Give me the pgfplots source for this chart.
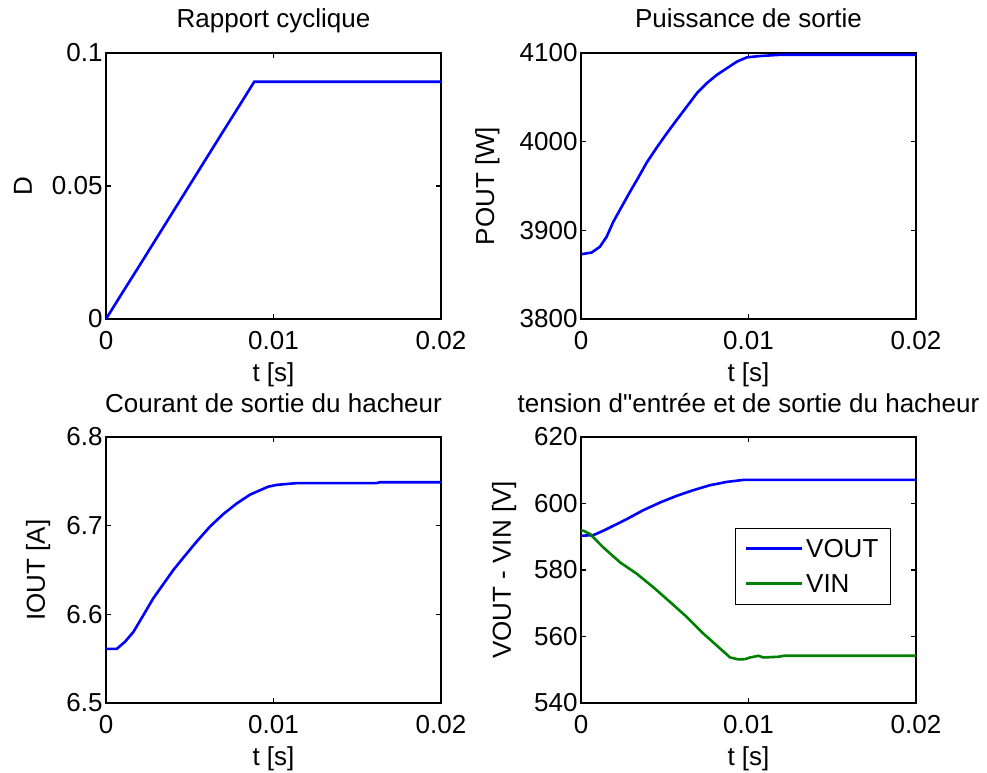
\documentclass[border=0pt]{standalone}
\usepackage{fontspec}
\setmainfont{Liberation Sans}
\newfontfamily\nomap{Liberation Sans}
\usepackage{pgfplots}
\pgfplotsset{compat=1.18}
\definecolor{mblue}{RGB}{0,0,255}
\definecolor{mgreen}{RGB}{0,128,0}
\newcommand{\bigf}{\fontsize{26}{31}\selectfont}
\pgfplotsset{mstyle/.style={
  scale only axis, width=335pt, height=266pt,
  xmin=0, xmax=0.02, xtick={0,0.01,0.02}, xticklabels={0,0.01,0.02},
  scaled ticks=false,
  tick align=inside, major tick length=5pt,
  axis line style={line width=1.6pt},
  every tick/.style={black, line width=1.2pt},
  tick label style={font=\bigf},
  label style={font=\bigf},
  title style={font=\bigf, at={(axis description cs:0.5,1)}, anchor=base, yshift=19pt},
  xlabel={t [s]},
  xlabel style={at={(axis description cs:0.5,0)}, anchor=base, yshift=-62pt},
  xticklabel style={anchor=base, yshift=-30pt},
  yticklabel style={anchor=east},
  every axis plot/.append style={line width=2.6pt, mark=none},
}}
\begin{document}
\begin{tikzpicture}
\useasboundingbox (0,0) rectangle (987pt,772pt);
% Top-left
\begin{axis}[mstyle, at={(106pt,453pt)}, anchor=south west,
  title={Rapport cyclique}, ylabel={D},
  ylabel style={at={(axis description cs:-0.2209,0.5)}, anchor=base},
  ymin=0, ymax=0.1, ytick={0,0.05,0.1}, yticklabels={0,0.05,0.1}]
\addplot[mblue] coordinates {
(0,0) (0.0010,0.0101) (0.0020,0.0201) (0.0030,0.0302) (0.0040,0.0403)
(0.0050,0.0504) (0.0060,0.0605) (0.0070,0.0706) (0.0080,0.0806)
(0.00885,0.0892) (0.0120,0.0892) (0.0200,0.0892)};
\end{axis}
% Top-right
\begin{axis}[mstyle, at={(581pt,453pt)}, anchor=south west,
  title={Puissance de sortie}, ylabel={POUT [W]},
  ylabel style={at={(axis description cs:-0.2597,0.5)}, anchor=base},
  ymin=3800, ymax=4100, ytick={3800,3900,4000,4100}, yticklabels={3800,3900,4000,4100}]
\addplot[mblue] coordinates {
(0,3873) (0.00064,3875) (0.00113,3881.5) (0.00153,3892.8) (0.00193,3909.7)
(0.00243,3926.7) (0.00293,3943.6) (0.00342,3959.5) (0.00392,3976.3)
(0.00452,3993.3) (0.00512,4009.4) (0.00571,4024.4) (0.00631,4039.4)
(0.00691,4054.5) (0.0075,4065.8) (0.0081,4075.2) (0.0087,4082.7)
(0.0093,4090.2) (0.0099,4095.1) (0.0107,4096.6) (0.0119,4098) (0.0200,4098)};
\end{axis}
% Bottom-left
\begin{axis}[mstyle, at={(106pt,69pt)}, anchor=south west,
  title={Courant de sortie du hacheur}, ylabel={IOUT [A]},
  ylabel style={at={(axis description cs:-0.1821,0.5)}, anchor=base},
  ymin=6.5, ymax=6.8, ytick={6.5,6.6,6.7,6.8}, yticklabels={6.5,6.6,6.7,6.8}]
\addplot[mblue] coordinates {
(0,6.561) (0.00064,6.561) (0.00113,6.569) (0.00163,6.580) (0.00223,6.599)
(0.00282,6.618) (0.00342,6.634) (0.00402,6.650) (0.00462,6.664)
(0.00541,6.682) (0.00621,6.699) (0.0070,6.713) (0.0078,6.725)
(0.0086,6.735) (0.0092,6.740) (0.00969,6.744) (0.01019,6.746)
(0.01139,6.748) (0.01616,6.748) (0.01636,6.749) (0.0200,6.749)};
\end{axis}
% Bottom-right
\begin{axis}[mstyle, at={(581pt,69pt)}, anchor=south west,
  title={tension d{\nomap"}entrée et de sortie du hacheur}, ylabel={VOUT - VIN [V]},
  ylabel style={at={(axis description cs:-0.2090,0.5)}, anchor=base},
  ymin=540, ymax=620, ytick={540,560,580,600,620}, yticklabels={540,560,580,600,620},
  legend style={at={(axis description cs:0.4597,0.659)}, anchor=north west,
    draw=black, line width=1.1pt, font=\bigf, inner xsep=9pt, inner ysep=12pt,
    nodes={inner xsep=3pt, inner ysep=0pt, text height=17pt, text depth=0pt},
    row sep=18pt, column sep=0pt},
  legend cell align=left,
  legend image code/.code={\draw[#1, line width=2.6pt] (0pt,0pt) -- (56pt,0pt);}]
\addplot[mblue] coordinates {
(0,590.3) (0.00074,590.5) (0.00133,591.8) (0.00193,593.3) (0.00273,595.3)
(0.00372,598.0) (0.00472,600.3) (0.00571,602.3) (0.0067,604.0)
(0.0077,605.5) (0.0087,606.5) (0.0097,607.1) (0.0200,607.1)};
\addlegendentry{VOUT}
\addplot[mgreen] coordinates {
(0,591.8) (0.00016,591.8) (0.00054,590.8) (0.00133,586.8) (0.00233,582.3)
(0.00332,578.9) (0.00432,574.8) (0.00531,570.4) (0.00631,565.9)
(0.0073,560.9) (0.0083,556.4) (0.0089,553.7) (0.0094,553.1) (0.0098,553.2)
(0.0101,553.7) (0.01059,554.2) (0.01088,553.7) (0.01178,553.9)
(0.0121,554.2) (0.0200,554.2)};
\addlegendentry{VIN}
\end{axis}
\end{tikzpicture}
\end{document}
